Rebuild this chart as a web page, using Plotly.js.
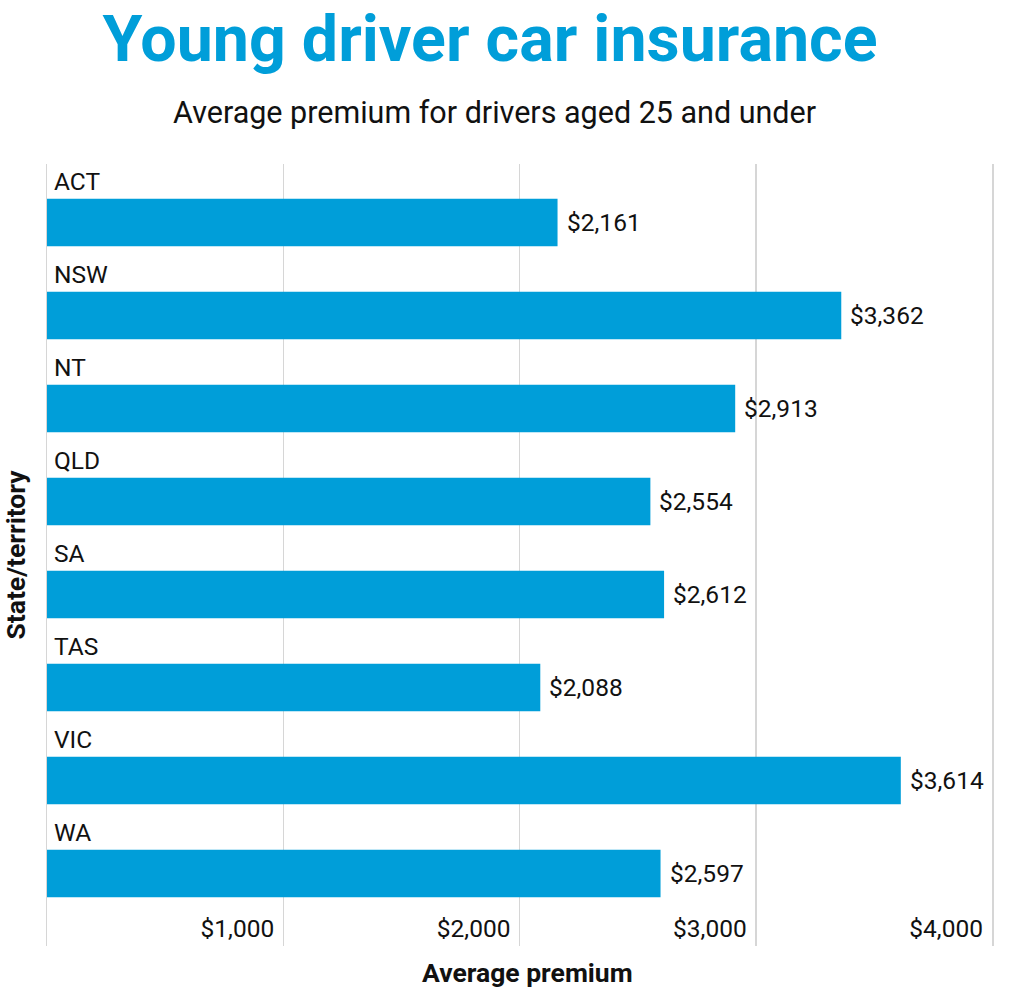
<!DOCTYPE html>
<html>
<head>
<meta charset="utf-8">
<script src="https://cdn.plot.ly/plotly-3.0.1.min.js"></script>
<style>html,body{margin:0;padding:0;background:#fff;}#chart{width:1024px;height:991px;}</style>
</head>
<body>
<div id="chart"></div>
<script>
const categories = ["ACT", "NSW", "NT", "QLD", "SA", "TAS", "VIC", "WA"];
const premiums = [2161, 3362, 2913, 2554, 2612, 2088, 3614, 2597];
const tickValues = [0, 1000, 2000, 3000, 4000];
const tickLabels = ["", "$1,000", "$2,000", "$3,000", "$4,000"];

const barColor = "#009ed9";
const gridColor = "#d6d6d6";
const font = "Roboto, 'Noto Sans', sans-serif";

const trace = {
  type: "bar",
  orientation: "h",
  x: premiums,
  y: categories,
  width: 0.51,
  marker: {color: barColor},
  hoverinfo: "skip"
};

const annotations = [];
categories.forEach((c, i) => {
  annotations.push({
    x: 0, xref: "paper", y: c, yref: "y",
    text: c, showarrow: false, xanchor: "left", yanchor: "middle",
    xshift: 5, yshift: 41,
    font: {family: font, size: 24.5, color: "#111"}
  });
  annotations.push({
    x: premiums[i], xref: "x", y: c, yref: "y",
    text: "$" + premiums[i].toLocaleString("en-US"), showarrow: false,
    xanchor: "left", yanchor: "middle", xshift: 7,
    font: {family: font, size: 24.5, color: "#111"}
  });
});
annotations.push({
  x: 0.474, xref: "paper", y: (946 - 113) / 782, yref: "paper", yanchor: "middle",
  text: "Average premium for drivers aged 25 and under", showarrow: false,
  font: {family: font, size: 30.5, color: "#111"}
});
annotations.push({
  x: (527 - 47) / 945, xref: "paper", y: (946 - 972) / 782, yref: "paper",
  xanchor: "center", yanchor: "middle",
  text: "<b>Average premium</b>", showarrow: false,
  font: {family: font, size: 26.5, color: "#111"}
});

const layout = {
  width: 1024, height: 991,
  margin: {l: 47, r: 32, t: 164, b: 45},
  paper_bgcolor: "#fff", plot_bgcolor: "#fff",
  title: {
    text: "<b>Young driver car insurance</b>",
    x: 0.4785, xanchor: "center", y: 1 - 38/991, yanchor: "middle",
    font: {family: font, size: 64.5, color: barColor}
  },
  showlegend: false,
  xaxis: {
    range: [0, 4000],
    tickvals: tickValues, ticktext: tickLabels,
    ticklabelposition: "inside left",
    ticklabelshift: -9,
    ticklabelstandoff: -2,
    showgrid: true, gridcolor: gridColor, gridwidth: 1.5,
    zeroline: false, showline: false, ticks: "",
    tickfont: {family: font, size: 24.5, color: "#111"},
    fixedrange: true
  },
  yaxis: {
    type: "category",
    categoryorder: "array", categoryarray: categories,
    range: [7.78, -0.629],
    showticklabels: false, showgrid: false, zeroline: false,
    showline: true, mirror: true, linecolor: gridColor, linewidth: 1.5,
    ticks: "",
    title: {text: "<b>State/territory</b>", font: {family: font, size: 26.5, color: "#111"}, standoff: 12},
    fixedrange: true
  },
  annotations: annotations,
  bargap: 0.49
};

Plotly.newPlot("chart", [trace], layout, {displayModeBar: false, staticPlot: true});
</script>
</body>
</html>
